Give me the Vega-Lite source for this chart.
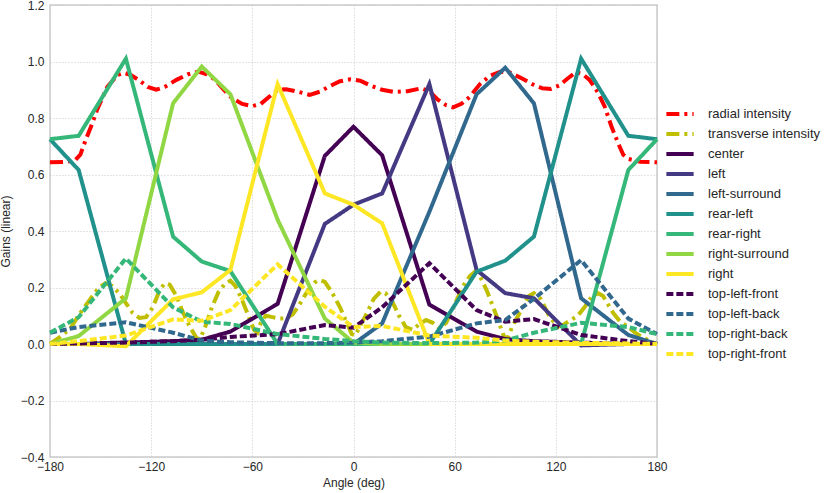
{
  "$schema": "https://vega.github.io/schema/vega-lite/v6.json",
  "autosize": "none",
  "width": 607,
  "height": 452,
  "padding": {"left": 50, "top": 5, "right": 174, "bottom": 36},
  "background": "white",
  "config": {
    "view": {"stroke": "#cccccc", "strokeWidth": 1.5},
    "axis": {
      "grid": true, "gridColor": "#c8c8c8", "gridDash": [1, 2], "gridWidth": 1,
      "domain": false, "ticks": false, "labelFlush": false,
      "labelFont": "Liberation Sans", "labelFontSize": 12, "labelColor": "#262626",
      "titleFont": "Liberation Sans", "titleFontSize": 12, "titleFontWeight": "normal", "titleColor": "#262626"
    },
    "legend": {"labelFont": "Liberation Sans", "labelFontSize": 13, "labelColor": "#262626"}
  },
  "datasets": {
    "rows": [
      {"s":"radial intensity","a":-180,"g":0.643},{"s":"radial intensity","a":-170,"g":0.645},{"s":"radial intensity","a":-165,"g":0.651},
      {"s":"radial intensity","a":-162,"g":0.67},{"s":"radial intensity","a":-159,"g":0.72},{"s":"radial intensity","a":-155,"g":0.78},
      {"s":"radial intensity","a":-152,"g":0.83},{"s":"radial intensity","a":-146,"g":0.91},{"s":"radial intensity","a":-140,"g":0.952},
      {"s":"radial intensity","a":-136,"g":0.96},{"s":"radial intensity","a":-132,"g":0.952},{"s":"radial intensity","a":-127,"g":0.933},
      {"s":"radial intensity","a":-122,"g":0.91},{"s":"radial intensity","a":-117,"g":0.9},{"s":"radial intensity","a":-112,"g":0.91},
      {"s":"radial intensity","a":-105,"g":0.935},{"s":"radial intensity","a":-98,"g":0.955},{"s":"radial intensity","a":-92,"g":0.964},
      {"s":"radial intensity","a":-87,"g":0.955},{"s":"radial intensity","a":-82,"g":0.935},{"s":"radial intensity","a":-77,"g":0.9},
      {"s":"radial intensity","a":-72,"g":0.87},{"s":"radial intensity","a":-66,"g":0.85},{"s":"radial intensity","a":-60,"g":0.842},
      {"s":"radial intensity","a":-55,"g":0.85},{"s":"radial intensity","a":-50,"g":0.875},{"s":"radial intensity","a":-45,"g":0.899},
      {"s":"radial intensity","a":-40,"g":0.902},{"s":"radial intensity","a":-33,"g":0.893},{"s":"radial intensity","a":-26,"g":0.882},
      {"s":"radial intensity","a":-20,"g":0.893},{"s":"radial intensity","a":-14,"g":0.913},{"s":"radial intensity","a":-8,"g":0.93},
      {"s":"radial intensity","a":-2,"g":0.937},{"s":"radial intensity","a":4,"g":0.932},{"s":"radial intensity","a":10,"g":0.915},
      {"s":"radial intensity","a":17,"g":0.9},{"s":"radial intensity","a":24,"g":0.892},{"s":"radial intensity","a":32,"g":0.895},
      {"s":"radial intensity","a":40,"g":0.905},{"s":"radial intensity","a":45,"g":0.895},{"s":"radial intensity","a":50,"g":0.865},
      {"s":"radial intensity","a":55,"g":0.845},{"s":"radial intensity","a":59,"g":0.838},{"s":"radial intensity","a":64,"g":0.85},
      {"s":"radial intensity","a":69,"g":0.875},{"s":"radial intensity","a":75,"g":0.92},{"s":"radial intensity","a":81,"g":0.95},
      {"s":"radial intensity","a":87,"g":0.964},{"s":"radial intensity","a":93,"g":0.96},{"s":"radial intensity","a":100,"g":0.94},
      {"s":"radial intensity","a":106,"g":0.92},{"s":"radial intensity","a":112,"g":0.905},{"s":"radial intensity","a":117,"g":0.903},
      {"s":"radial intensity","a":122,"g":0.915},{"s":"radial intensity","a":127,"g":0.94},{"s":"radial intensity","a":132,"g":0.962},
      {"s":"radial intensity","a":136,"g":0.955},{"s":"radial intensity","a":140,"g":0.935},{"s":"radial intensity","a":145,"g":0.89},
      {"s":"radial intensity","a":149,"g":0.84},{"s":"radial intensity","a":153,"g":0.77},{"s":"radial intensity","a":157,"g":0.71},
      {"s":"radial intensity","a":160,"g":0.67},{"s":"radial intensity","a":163,"g":0.655},{"s":"radial intensity","a":170,"g":0.645},
      {"s":"radial intensity","a":180,"g":0.643},

      {"s":"transverse intensity","a":-180,"g":0},{"s":"transverse intensity","a":-174,"g":0.025},{"s":"transverse intensity","a":-168,"g":0.055},
      {"s":"transverse intensity","a":-162,"g":0.11},{"s":"transverse intensity","a":-156,"g":0.16},{"s":"transverse intensity","a":-151,"g":0.2},
      {"s":"transverse intensity","a":-147,"g":0.215},{"s":"transverse intensity","a":-143,"g":0.205},{"s":"transverse intensity","a":-139,"g":0.18},
      {"s":"transverse intensity","a":-135,"g":0.145},{"s":"transverse intensity","a":-131,"g":0.11},{"s":"transverse intensity","a":-127,"g":0.092},
      {"s":"transverse intensity","a":-123,"g":0.095},{"s":"transverse intensity","a":-119,"g":0.13},{"s":"transverse intensity","a":-115,"g":0.19},
      {"s":"transverse intensity","a":-112,"g":0.215},{"s":"transverse intensity","a":-109,"g":0.21},{"s":"transverse intensity","a":-105,"g":0.17},
      {"s":"transverse intensity","a":-101,"g":0.11},{"s":"transverse intensity","a":-97,"g":0.06},{"s":"transverse intensity","a":-93,"g":0.02},
      {"s":"transverse intensity","a":-91,"g":0.018},{"s":"transverse intensity","a":-88,"g":0.06},{"s":"transverse intensity","a":-84,"g":0.13},
      {"s":"transverse intensity","a":-80,"g":0.185},{"s":"transverse intensity","a":-76,"g":0.215},{"s":"transverse intensity","a":-73,"g":0.224},
      {"s":"transverse intensity","a":-70,"g":0.205},{"s":"transverse intensity","a":-66,"g":0.155},{"s":"transverse intensity","a":-62,"g":0.095},
      {"s":"transverse intensity","a":-59,"g":0.05},{"s":"transverse intensity","a":-57,"g":0.04},{"s":"transverse intensity","a":-55,"g":0.075},
      {"s":"transverse intensity","a":-52,"g":0.1},{"s":"transverse intensity","a":-48,"g":0.095},{"s":"transverse intensity","a":-44,"g":0.09},
      {"s":"transverse intensity","a":-40,"g":0.09},{"s":"transverse intensity","a":-36,"g":0.105},{"s":"transverse intensity","a":-32,"g":0.14},
      {"s":"transverse intensity","a":-27,"g":0.19},{"s":"transverse intensity","a":-23,"g":0.218},{"s":"transverse intensity","a":-20,"g":0.227},
      {"s":"transverse intensity","a":-17,"g":0.22},{"s":"transverse intensity","a":-13,"g":0.185},{"s":"transverse intensity","a":-8,"g":0.13},
      {"s":"transverse intensity","a":-4,"g":0.075},{"s":"transverse intensity","a":-1,"g":0.035},{"s":"transverse intensity","a":1,"g":0.03},
      {"s":"transverse intensity","a":4,"g":0.065},{"s":"transverse intensity","a":8,"g":0.11},{"s":"transverse intensity","a":12,"g":0.16},
      {"s":"transverse intensity","a":16,"g":0.185},{"s":"transverse intensity","a":19,"g":0.18},{"s":"transverse intensity","a":23,"g":0.15},
      {"s":"transverse intensity","a":27,"g":0.1},{"s":"transverse intensity","a":31,"g":0.06},{"s":"transverse intensity","a":35,"g":0.05},
      {"s":"transverse intensity","a":39,"g":0.07},{"s":"transverse intensity","a":43,"g":0.085},{"s":"transverse intensity","a":47,"g":0.075},
      {"s":"transverse intensity","a":51,"g":0.055},{"s":"transverse intensity","a":55,"g":0.075},{"s":"transverse intensity","a":60,"g":0.14},
      {"s":"transverse intensity","a":65,"g":0.205},{"s":"transverse intensity","a":69,"g":0.24},{"s":"transverse intensity","a":72,"g":0.255},
      {"s":"transverse intensity","a":75,"g":0.24},{"s":"transverse intensity","a":79,"g":0.19},{"s":"transverse intensity","a":85,"g":0.097},
      {"s":"transverse intensity","a":89,"g":0.03},{"s":"transverse intensity","a":91,"g":0.014},{"s":"transverse intensity","a":94,"g":0.06},
      {"s":"transverse intensity","a":99,"g":0.115},{"s":"transverse intensity","a":104,"g":0.17},{"s":"transverse intensity","a":107,"g":0.18},
      {"s":"transverse intensity","a":111,"g":0.16},{"s":"transverse intensity","a":116,"g":0.1},{"s":"transverse intensity","a":121,"g":0.06},
      {"s":"transverse intensity","a":125,"g":0.07},{"s":"transverse intensity","a":129,"g":0.085},{"s":"transverse intensity","a":133,"g":0.1},
      {"s":"transverse intensity","a":137,"g":0.13},{"s":"transverse intensity","a":141,"g":0.165},{"s":"transverse intensity","a":145,"g":0.18},
      {"s":"transverse intensity","a":148,"g":0.17},{"s":"transverse intensity","a":151,"g":0.14},{"s":"transverse intensity","a":154,"g":0.11},
      {"s":"transverse intensity","a":158,"g":0.08},{"s":"transverse intensity","a":163,"g":0.06},{"s":"transverse intensity","a":167,"g":0.04},
      {"s":"transverse intensity","a":172,"g":0.022},{"s":"transverse intensity","a":176,"g":0.01},{"s":"transverse intensity","a":180,"g":0},

      {"s":"center","a":-180,"g":0},{"s":"center","a":-163,"g":0},{"s":"center","a":-135,"g":0.005},{"s":"center","a":-107,"g":0.01},
      {"s":"center","a":-90,"g":0.015},{"s":"center","a":-73,"g":0.044},{"s":"center","a":-45,"g":0.142},{"s":"center","a":-17,"g":0.666},
      {"s":"center","a":0,"g":0.769},{"s":"center","a":17,"g":0.668},{"s":"center","a":45,"g":0.139},{"s":"center","a":73,"g":0.044},
      {"s":"center","a":90,"g":0.017},{"s":"center","a":107,"g":0.01},{"s":"center","a":135,"g":0.005},{"s":"center","a":163,"g":0},
      {"s":"center","a":180,"g":0},

      {"s":"left","a":-180,"g":0},{"s":"left","a":-163,"g":0},{"s":"left","a":-135,"g":0},{"s":"left","a":-107,"g":0},
      {"s":"left","a":-90,"g":0},{"s":"left","a":-73,"g":0},{"s":"left","a":-45,"g":0},{"s":"left","a":-17,"g":0.425},
      {"s":"left","a":0,"g":0.493},{"s":"left","a":17,"g":0.533},{"s":"left","a":45,"g":0.92},{"s":"left","a":73,"g":0.262},
      {"s":"left","a":90,"g":0.18},{"s":"left","a":107,"g":0.162},{"s":"left","a":135,"g":-0.005},{"s":"left","a":163,"g":0},
      {"s":"left","a":180,"g":0},

      {"s":"left-surround","a":-180,"g":0},{"s":"left-surround","a":-163,"g":0},{"s":"left-surround","a":-135,"g":0},{"s":"left-surround","a":-107,"g":0},
      {"s":"left-surround","a":-90,"g":0},{"s":"left-surround","a":-73,"g":0},{"s":"left-surround","a":-45,"g":0},{"s":"left-surround","a":-17,"g":0},
      {"s":"left-surround","a":0,"g":0},{"s":"left-surround","a":17,"g":0.073},{"s":"left-surround","a":45,"g":0.468},{"s":"left-surround","a":73,"g":0.884},
      {"s":"left-surround","a":90,"g":0.978},{"s":"left-surround","a":107,"g":0.852},{"s":"left-surround","a":135,"g":0.162},{"s":"left-surround","a":163,"g":0.032},
      {"s":"left-surround","a":180,"g":0},

      {"s":"rear-left","a":-180,"g":0.725},{"s":"rear-left","a":-163,"g":0.616},{"s":"rear-left","a":-135,"g":0},{"s":"rear-left","a":-107,"g":0},
      {"s":"rear-left","a":-90,"g":0},{"s":"rear-left","a":-73,"g":0},{"s":"rear-left","a":-45,"g":0},{"s":"rear-left","a":-17,"g":0},
      {"s":"rear-left","a":0,"g":0},{"s":"rear-left","a":17,"g":0},{"s":"rear-left","a":45,"g":0},{"s":"rear-left","a":73,"g":0.256},
      {"s":"rear-left","a":90,"g":0.295},{"s":"rear-left","a":107,"g":0.38},{"s":"rear-left","a":135,"g":1.01},{"s":"rear-left","a":163,"g":0.737},
      {"s":"rear-left","a":180,"g":0.725},

      {"s":"rear-right","a":-180,"g":0.725},{"s":"rear-right","a":-163,"g":0.737},{"s":"rear-right","a":-135,"g":1.01},{"s":"rear-right","a":-107,"g":0.38},
      {"s":"rear-right","a":-90,"g":0.292},{"s":"rear-right","a":-73,"g":0.258},{"s":"rear-right","a":-45,"g":0},{"s":"rear-right","a":-17,"g":0},
      {"s":"rear-right","a":0,"g":0},{"s":"rear-right","a":17,"g":0},{"s":"rear-right","a":45,"g":0},{"s":"rear-right","a":73,"g":0},
      {"s":"rear-right","a":90,"g":0},{"s":"rear-right","a":107,"g":0},{"s":"rear-right","a":135,"g":0},{"s":"rear-right","a":163,"g":0.616},
      {"s":"rear-right","a":180,"g":0.725},

      {"s":"right-surround","a":-180,"g":0},{"s":"right-surround","a":-163,"g":0.028},{"s":"right-surround","a":-135,"g":0.162},{"s":"right-surround","a":-107,"g":0.852},
      {"s":"right-surround","a":-90,"g":0.982},{"s":"right-surround","a":-73,"g":0.884},{"s":"right-surround","a":-45,"g":0.44},{"s":"right-surround","a":-17,"g":0.09},
      {"s":"right-surround","a":0,"g":0.005},{"s":"right-surround","a":17,"g":0},{"s":"right-surround","a":45,"g":0},{"s":"right-surround","a":73,"g":0},
      {"s":"right-surround","a":90,"g":0},{"s":"right-surround","a":107,"g":0},{"s":"right-surround","a":135,"g":0},{"s":"right-surround","a":163,"g":0},
      {"s":"right-surround","a":180,"g":0},

      {"s":"right","a":-180,"g":0},{"s":"right","a":-163,"g":0},{"s":"right","a":-135,"g":-0.008},{"s":"right","a":-107,"g":0.158},
      {"s":"right","a":-90,"g":0.183},{"s":"right","a":-73,"g":0.262},{"s":"right","a":-45,"g":0.92},{"s":"right","a":-17,"g":0.533},
      {"s":"right","a":0,"g":0.493},{"s":"right","a":17,"g":0.427},{"s":"right","a":45,"g":0},{"s":"right","a":73,"g":0},
      {"s":"right","a":90,"g":0},{"s":"right","a":107,"g":0},{"s":"right","a":135,"g":0},{"s":"right","a":163,"g":0},
      {"s":"right","a":180,"g":0},

      {"s":"top-left-front","a":-180,"g":0},{"s":"top-left-front","a":-163,"g":0.002},{"s":"top-left-front","a":-135,"g":0.005},{"s":"top-left-front","a":-107,"g":0.01},
      {"s":"top-left-front","a":-90,"g":0.015},{"s":"top-left-front","a":-73,"g":0.025},{"s":"top-left-front","a":-45,"g":0.035},{"s":"top-left-front","a":-17,"g":0.067},
      {"s":"top-left-front","a":0,"g":0.058},{"s":"top-left-front","a":17,"g":0.13},{"s":"top-left-front","a":45,"g":0.286},{"s":"top-left-front","a":73,"g":0.12},
      {"s":"top-left-front","a":90,"g":0.079},{"s":"top-left-front","a":107,"g":0.088},{"s":"top-left-front","a":135,"g":0.032},{"s":"top-left-front","a":163,"g":0.01},
      {"s":"top-left-front","a":180,"g":0},

      {"s":"top-left-back","a":-180,"g":0.04},{"s":"top-left-back","a":-163,"g":0.06},{"s":"top-left-back","a":-135,"g":0.077},{"s":"top-left-back","a":-107,"g":0.04},
      {"s":"top-left-back","a":-90,"g":0.012},{"s":"top-left-back","a":-73,"g":0.006},{"s":"top-left-back","a":-45,"g":0.003},{"s":"top-left-back","a":-17,"g":0.003},
      {"s":"top-left-back","a":0,"g":0.005},{"s":"top-left-back","a":17,"g":0.01},{"s":"top-left-back","a":45,"g":0.026},{"s":"top-left-back","a":73,"g":0.073},
      {"s":"top-left-back","a":90,"g":0.085},{"s":"top-left-back","a":107,"g":0.16},{"s":"top-left-back","a":135,"g":0.297},{"s":"top-left-back","a":163,"g":0.09},
      {"s":"top-left-back","a":180,"g":0.035},

      {"s":"top-right-back","a":-180,"g":0.04},{"s":"top-right-back","a":-163,"g":0.095},{"s":"top-right-back","a":-135,"g":0.303},{"s":"top-right-back","a":-107,"g":0.13},
      {"s":"top-right-back","a":-90,"g":0.079},{"s":"top-right-back","a":-73,"g":0.071},{"s":"top-right-back","a":-45,"g":0.035},{"s":"top-right-back","a":-17,"g":0.018},
      {"s":"top-right-back","a":0,"g":0.01},{"s":"top-right-back","a":17,"g":0.005},{"s":"top-right-back","a":45,"g":0.003},{"s":"top-right-back","a":73,"g":0.005},
      {"s":"top-right-back","a":90,"g":0.012},{"s":"top-right-back","a":107,"g":0.04},{"s":"top-right-back","a":135,"g":0.075},{"s":"top-right-back","a":163,"g":0.06},
      {"s":"top-right-back","a":180,"g":0.035},

      {"s":"top-right-front","a":-180,"g":0},{"s":"top-right-front","a":-163,"g":0.01},{"s":"top-right-front","a":-135,"g":0.03},{"s":"top-right-front","a":-107,"g":0.087},
      {"s":"top-right-front","a":-90,"g":0.082},{"s":"top-right-front","a":-73,"g":0.12},{"s":"top-right-front","a":-45,"g":0.282},{"s":"top-right-front","a":-17,"g":0.132},
      {"s":"top-right-front","a":0,"g":0.06},{"s":"top-right-front","a":17,"g":0.064},{"s":"top-right-front","a":45,"g":0.03},{"s":"top-right-front","a":73,"g":0.022},
      {"s":"top-right-front","a":90,"g":0.012},{"s":"top-right-front","a":107,"g":0.008},{"s":"top-right-front","a":135,"g":0.004},{"s":"top-right-front","a":163,"g":0.002},
      {"s":"top-right-front","a":180,"g":0}
    ]
  },
  "data": {"name": "rows"},
  "mark": {"type": "line", "interpolate": "linear"},
  "encoding": {
    "x": {
      "field": "a", "type": "quantitative",
      "scale": {"domain": [-180, 180], "nice": false, "zero": false},
      "axis": {"title": "Angle (deg)", "values": [-180, -120, -60, 0, 60, 120, 180], "labelExpr": "replace(format(datum.value, 'd'), '-', '−')", "labelPadding": 4, "titlePadding": 5}
    },
    "y": {
      "field": "g", "type": "quantitative",
      "scale": {"domain": [-0.4, 1.2], "nice": false, "zero": false},
      "axis": {"title": "Gains (linear)", "values": [-0.4, -0.2, 0, 0.2, 0.4, 0.6, 0.8, 1.0, 1.2], "labelExpr": "replace(format(datum.value, '.1f'), '-', '−')", "labelPadding": 6, "titlePadding": 8}
    },
    "color": {
      "field": "s", "type": "nominal",
      "scale": {
        "domain": ["radial intensity", "transverse intensity", "center", "left", "left-surround", "rear-left", "rear-right", "right-surround", "right", "top-left-front", "top-left-back", "top-right-back", "top-right-front"],
        "range": ["#ff0000", "#bfbf00", "#440154", "#443983", "#31688e", "#21918c", "#35b779", "#90d743", "#fde725", "#440154", "#31688e", "#35b779", "#fde725"]
      },
      "legend": {
        "title": null, "orient": "none", "legendX": 618, "legendY": 97, "padding": 0,
        "symbolType": "M-1.415,0H1.415", "symbolSize": 372, "rowPadding": 0, "labelOffset": 16,
        "encode": {
          "symbols": {
            "update": {
              "strokeWidth": [{"test": "indexof(['radial intensity', 'transverse intensity'], datum.value) >= 0", "value": 4}, {"value": 2.5}],
              "strokeDash": [{"test": "indexof(['top-left-front', 'top-left-back', 'top-right-back', 'top-right-front'], datum.value) >= 0", "value": [7, 6]}, {"value": [1, 0]}]
            }
          }
        }
      }
    },
    "strokeDash": {
      "field": "s", "type": "nominal", "legend": null,
      "scale": {
        "domain": ["radial intensity", "transverse intensity", "center", "left", "left-surround", "rear-left", "rear-right", "right-surround", "right", "top-left-front", "top-left-back", "top-right-back", "top-right-front"],
        "range": [[13, 5, 3, 5], [13, 5, 3, 5], [1, 0], [1, 0], [1, 0], [1, 0], [1, 0], [1, 0], [1, 0], [7, 3], [7, 3], [7, 3], [7, 3]]
      }
    },
    "strokeWidth": {
      "field": "s", "type": "nominal", "legend": null,
      "scale": {
        "domain": ["radial intensity", "transverse intensity", "center", "left", "left-surround", "rear-left", "rear-right", "right-surround", "right", "top-left-front", "top-left-back", "top-right-back", "top-right-front"],
        "range": [4, 4, 2, 2, 2, 2, 2, 2, 2, 2, 2, 2, 2]
      }
    }
  }
}
